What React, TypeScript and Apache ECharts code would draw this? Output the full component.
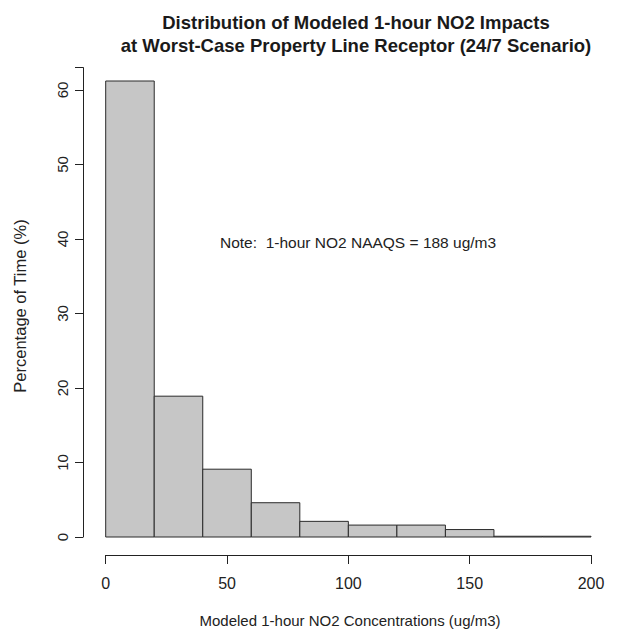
import React, { useEffect, useRef } from "react";
import * as echarts from "echarts";

const binStarts = [0, 20, 40, 60, 80, 100, 120, 140, 160, 180];
const binWidth = 20;
const percentages = [61.2, 18.9, 9.1, 4.6, 2.1, 1.6, 1.6, 1.0, 0.1, 0.1];
const xTicks = [0, 50, 100, 150, 200];
const yTicks = [0, 10, 20, 30, 40, 50, 60];

const titleLines = [
  "Distribution of Modeled 1-hour NO2 Impacts",
  "at Worst-Case Property Line Receptor (24/7 Scenario)",
];
const noteText = "Note:  1-hour NO2 NAAQS = 188 ug/m3";
const xTitle = "Modeled 1-hour NO2 Concentrations (ug/m3)";
const yTitle = "Percentage of Time (%)";

export default function App() {
  const ref = useRef<HTMLDivElement>(null);
  useEffect(() => {
    document.body.style.margin = "0";
    if (!ref.current) return;
    const chart = echarts.init(ref.current, null, { renderer: "svg" });
    const font = "Liberation Sans, Arial, sans-serif";
    const data = binStarts.map((s, i) => [s, s + binWidth, percentages[i]]);
    chart.setOption({
      animation: false,
      backgroundColor: "#ffffff",
      title: {
        text: titleLines.join("\n"),
        left: 351,
        textAlign: "center",
        top: 6,
        textStyle: {
          fontFamily: font,
          fontSize: 18.5,
          fontWeight: "bold",
          color: "#1a1a1a",
          lineHeight: 23,
        },
      },
      grid: { left: 105.7, right: 27, top: 67.6, bottom: 95 },
      xAxis: {
        type: "value",
        min: 0,
        max: 200,
        interval: 50,
        offset: 18,
        splitLine: { show: false },
        axisLine: { show: true, onZero: false, lineStyle: { color: "#222", width: 1 } },
        axisTick: { show: true, length: 9, lineStyle: { color: "#222" } },
        axisLabel: {
          margin: 20,
          fontFamily: font,
          fontSize: 16,
          color: "#222",
          customValues: xTicks,
        },
      },
      yAxis: {
        type: "value",
        min: 0,
        max: 63,
        interval: 10,
        offset: 22.7,
        splitLine: { show: false },
        axisLine: { show: true, onZero: false, lineStyle: { color: "#222", width: 1 } },
        axisTick: { show: true, length: 8, lineStyle: { color: "#222" } },
        axisLabel: {
          rotate: 90,
          margin: 13,
          fontFamily: font,
          fontSize: 15,
          color: "#222",
          customValues: yTicks,
        },
      },
      series: [
        {
          type: "custom",
          data,
          renderItem: (params: any, api: any) => {
            const s = api.value(0);
            const e = api.value(1);
            const v = api.value(2);
            const p0 = api.coord([s, 0]);
            const p1 = api.coord([e, v]);
            return {
              type: "rect",
              shape: {
                x: p0[0],
                y: p1[1],
                width: p1[0] - p0[0],
                height: p0[1] - p1[1],
              },
              style: {
                fill: "#c6c6c6",
                stroke: "#2a2a2a",
                lineWidth: 1,
              },
            };
          },
        },
      ],
      graphic: [
        {
          type: "text",
          left: 220,
          top: 234,
          style: {
            text: noteText,
            font: `15.5px ${font}`,
            fill: "#222",
          },
        },
        {
          type: "text",
          x: 350,
          y: 620,
          style: {
            text: xTitle,
            font: `15px ${font}`,
            fill: "#222",
            textAlign: "center",
            textVerticalAlign: "middle",
          },
        },
        {
          type: "text",
          x: 20,
          y: 306,
          rotation: Math.PI / 2,
          style: {
            text: yTitle,
            font: `16.5px ${font}`,
            fill: "#222",
            textAlign: "center",
            textVerticalAlign: "middle",
          },
        },
      ],
    });
    return () => chart.dispose();
  }, []);
  return <div ref={ref} style={{ width: 618, height: 632 }} />;
}
